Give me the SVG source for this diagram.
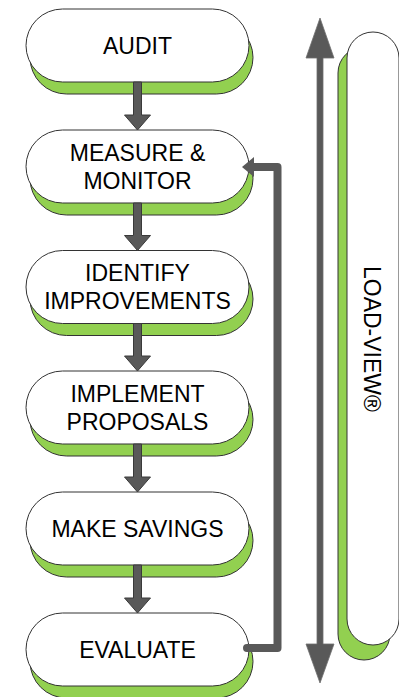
<svg xmlns="http://www.w3.org/2000/svg" width="399" height="697" viewBox="0 0 399 697">
<style>
.sh{fill:#92d050;stroke:#333;stroke-width:1}
.nd{fill:#fff;stroke:#333;stroke-width:1}
.t{font-family:"Liberation Sans",Arial,sans-serif;font-size:23px;fill:#000;text-anchor:middle}
.ar{fill:#595959;stroke:#3a3a3a;stroke-width:1}
</style>
<rect width="399" height="697" fill="#fff"/>
<g id="loadview">
<rect class="sh" x="338" y="47" width="52" height="613" rx="26"/>
<rect class="nd" x="347" y="32" width="52" height="613" rx="26"/>
<text class="t" transform="translate(372,339) rotate(90)" y="8.3">LOAD-VIEW®</text>
</g>
<g id="audit">
<rect class="sh" x="30" y="21" width="223" height="73" rx="36.5"/>
<rect class="nd" x="26" y="9" width="223" height="73" rx="36.5"/>
<text class="t" x="137.5" y="53.8">AUDIT</text>
</g>
<g id="measure">
<rect class="sh" x="30" y="142" width="223" height="73" rx="36.5"/>
<rect class="nd" x="26" y="130" width="223" height="73" rx="36.5"/>
<text class="t" x="137.5" y="160.8">MEASURE &amp;</text>
<text class="t" x="137.5" y="188.8">MONITOR</text>
</g>
<g id="identify">
<rect class="sh" x="30" y="262.5" width="223" height="73" rx="36.5"/>
<rect class="nd" x="26" y="250.5" width="223" height="73" rx="36.5"/>
<text class="t" x="137.5" y="281.3">IDENTIFY</text>
<text class="t" x="137.5" y="309.3">IMPROVEMENTS</text>
</g>
<g id="implement">
<rect class="sh" x="30" y="383" width="223" height="73" rx="36.5"/>
<rect class="nd" x="26" y="371" width="223" height="73" rx="36.5"/>
<text class="t" x="137.5" y="401.8">IMPLEMENT</text>
<text class="t" x="137.5" y="429.8">PROPOSALS</text>
</g>
<g id="savings">
<rect class="sh" x="30" y="504" width="223" height="73" rx="36.5"/>
<rect class="nd" x="26" y="492" width="223" height="73" rx="36.5"/>
<text class="t" x="137.5" y="536.8">MAKE SAVINGS</text>
</g>
<g id="evaluate">
<rect class="sh" x="30" y="625" width="223" height="73" rx="36.5"/>
<rect class="nd" x="26" y="613" width="223" height="73" rx="36.5"/>
<text class="t" x="137.5" y="657.8">EVALUATE</text>
</g>
<g id="connectors">
<path class="ar" d="M133.5,82 H141.5 V115 H150.5 L137.5,130 L124.5,115 H133.5 Z"/>
<path class="ar" d="M133.5,203 H141.5 V235.5 H150.5 L137.5,250.5 L124.5,235.5 H133.5 Z"/>
<path class="ar" d="M133.5,323.5 H141.5 V356 H150.5 L137.5,371 L124.5,356 H133.5 Z"/>
<path class="ar" d="M133.5,444 H141.5 V477 H150.5 L137.5,492 L124.5,477 H133.5 Z"/>
<path class="ar" d="M133.5,565 H141.5 V598 H150.5 L137.5,613 L124.5,598 H133.5 Z"/>
<path d="M247,648 H277.5 V167 H252" fill="none" stroke="#595959" stroke-width="8" stroke-linejoin="round" stroke-linecap="round"/>
<polygon points="242,167 254,157 254,177" fill="#595959"/>
<path d="M320,18 L334,58 H323 V644 H334 L320,683 L306,644 H317 V58 H306 Z" fill="#595959" stroke="#6e6e6e" stroke-width="0.8"/>
</g>
</svg>
